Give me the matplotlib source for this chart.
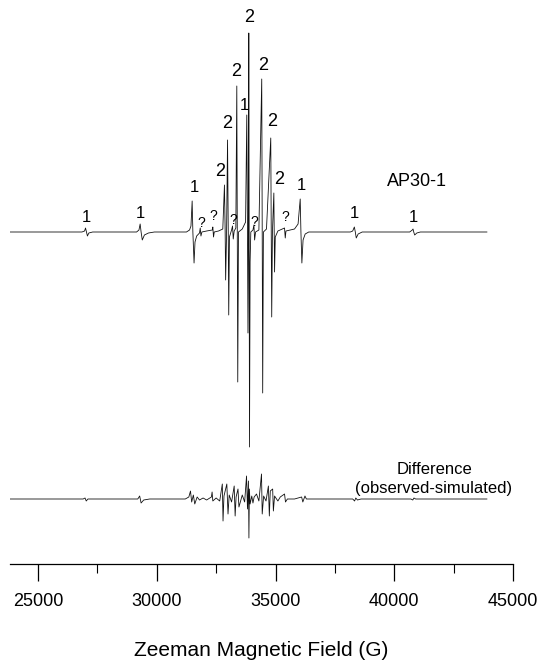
import matplotlib as mpl
mpl.use('Agg')
import matplotlib.pyplot as plt
from matplotlib.ticker import MultipleLocator

plt.rcParams['font.family'] = ['Liberation Sans', 'DejaVu Sans']

# observed spectrum (AP30-1), field in G, intensity in arb. units
obs_field = [23820, 26850, 26960, 27000, 27040, 27080, 27140, 27300,
             29150, 29250, 29300, 29340, 29390, 29480, 29650, 29900,
             31250, 31380, 31440, 31490, 31520, 31570, 31610, 31680, 31800,
             31830, 31860, 31900, 32100, 32340, 32360, 32390, 32420, 32600,
             32780, 32850, 32880, 32900, 32940, 32980, 33010, 33030, 33060,
             33150, 33190, 33220, 33260, 33330, 33370, 33390, 33410, 33440,
             33600, 33740, 33790, 33820, 33840, 33860, 33875, 33890, 33905,
             33930, 33960, 34050, 34090, 34120, 34160, 34300, 34420, 34440,
             34460, 34490, 34620, 34800, 34820, 34840, 34870, 34930, 34945,
             34960, 34990, 35100, 35380, 35410, 35440, 35800, 35950, 36040,
             36070, 36110, 36160, 36250, 36400,
             38150, 38250, 38320, 38360, 38400, 38480, 38650,
             40650, 40760, 40790, 40820, 40860, 40950, 41100, 43900]
obs_int = [0, 0, 1, 4, 0, -4, -1, 0,
           0, 2, 8, 0, -8, -3, -1, 0,
           0, 2, 6, 31, 0, -31, -10, -4, -1,
           4, -4, 0, 1, 2, 5, -5, 0, 1,
           3, 47, 0, -48, 0, 92, 0, -83, -5,
           2, 6, -7, 1, 4, 146, 0, -150, 0,
           3, 10, 117, 0, -101, 0, 199, 0, -215,
           -30, 0, 2, 7, -8, 0, 2, 153, 0,
           -161, 0, 3, 94, 0, -85, 0, 39, 0,
           -40, -5, 1, 4, -6, 1, 3, 8, 33,
           0, -31, -8, -2, 0,
           0, 1, 5, 0, -6, -2, 0,
           0, 2, 3, 0, -3, -1, 0, 0]

# difference (observed - simulated)
diff_field = [23800, 26900, 26980, 27030, 27100, 29200, 29280, 29340, 29450, 29700,
              31200, 31350, 31420, 31470, 31540, 31600, 31700, 31800, 31950, 32100,
              32300, 32330, 32360, 32500, 32650, 32760, 32790, 32830, 32950, 33000,
              33050, 33150, 33260, 33300, 33340, 33420, 33460, 33600, 33700, 33780,
              33820, 33860, 33880, 33900, 33930, 34000, 34050, 34100, 34200, 34300,
              34410, 34440, 34500, 34600, 34700, 34740, 34780, 34880, 34910, 34960,
              35100, 35200, 35380, 35420, 35500, 35800, 36100, 36150, 36240, 36300,
              38250, 38330, 38380, 38450, 38600, 40700, 40780, 40830, 40900, 43900]
diff_int = [0, 0, 1, -2, 0, 0, 3, -4, -1, 0,
            0, 2, 8, -3, 4, -5, 2, -1, 1, -1,
            2, 7, -2, 1, -2, 15, -22, 3, 15, -15,
            4, -3, 13, -17, 2, 10, -8, 4, -3, 23,
            -10, 18, -39, 10, -5, 3, -4, 2, 5, -2,
            25, -15, 3, -2, 13, -17, 8, 10, -12, 3,
            -2, 2, 5, -3, 0, 0, 2, -3, 3, 0,
            0, -2, 1, -1, 0, 0, -1, 1, 0, 0]

# peak assignments
peak_text = ['1', '1', '1', '?', '?', '2', '2', '?', '2', '1', '2', '?', '2', '2', '2', '?', '1', '1', '1']
peak_field = [27020, 29290, 31570, 31860, 32370, 32660, 32960, 33210, 33340, 33670,
              33880, 34090, 34470, 34850, 35150, 35400, 36070, 38300, 40790]
peak_height = [14, 19, 45, 9, 16, 60, 108, 12, 160, 126,
               214, 10, 167, 110, 53, 15, 47, 19, 14]

DIFF_OFFSET = -267

fig = plt.figure(figsize=(5.37, 6.6), dpi=100)
ax = fig.add_axes([10 / 537, 96 / 660, 503 / 537, 564 / 660])

ax.plot(obs_field, obs_int, color='#111111', lw=0.6)
ax.plot(diff_field, [v + DIFF_OFFSET for v in diff_int], color='#111111', lw=0.6)

for t, f, h in zip(peak_text, peak_field, peak_height):
    fs = 10 if t == '?' else (13 if t == '2' else 12)
    ax.text(f, h, t, ha='center', va='center', fontsize=fs)

ax.text(40960, 50, 'AP30-1', ha='center', va='center', fontsize=13)
ax.text(41700, DIFF_OFFSET + 29, 'Difference', ha='center', va='center', fontsize=12)
ax.text(41650, DIFF_OFFSET + 10, '(observed-simulated)', ha='center', va='center', fontsize=12)

ax.set_xlim(23820, 45000)
ax.set_ylim(-332, 232)
ax.xaxis.set_major_locator(MultipleLocator(5000))
ax.xaxis.set_minor_locator(MultipleLocator(2500))
ax.tick_params(axis='x', which='major', length=12, width=0.9, labelsize=13, pad=9)
ax.tick_params(axis='x', which='minor', length=6.5, width=0.8)
ax.set_yticks([])
for s in ['left', 'right', 'top']:
    ax.spines[s].set_visible(False)
ax.spines['bottom'].set_linewidth(0.9)
ax.set_xlabel('Zeeman Magnetic Field (G)', fontsize=15, labelpad=22)

fig.savefig('out.png', dpi=100)
